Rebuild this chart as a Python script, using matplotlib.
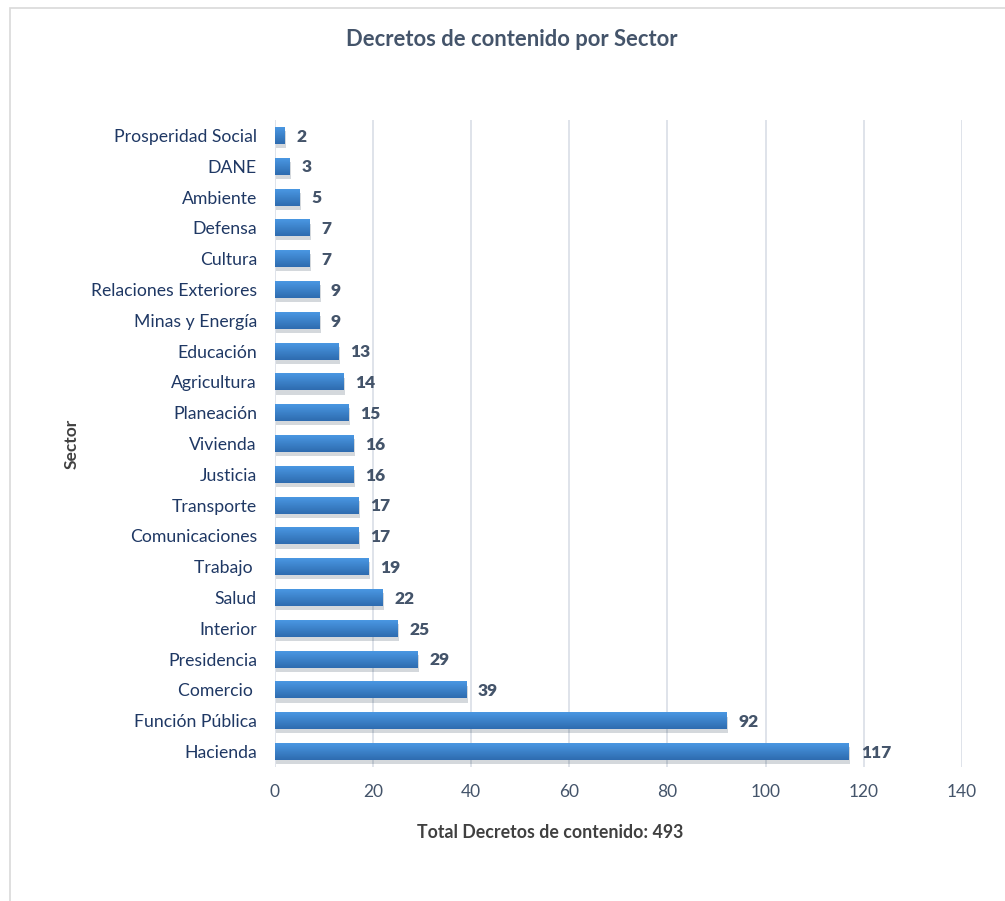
import matplotlib.pyplot as plt
import numpy as np
from matplotlib.patches import Rectangle
import matplotlib.patheffects as pe

sectors = ["Prosperidad Social", "DANE", "Ambiente", "Defensa", "Cultura",
           "Relaciones Exteriores", "Minas y Energía", "Educación", "Agricultura",
           "Planeación", "Vivienda", "Justicia", "Transporte", "Comunicaciones",
           "Trabajo ", "Salud", "Interior", "Presidencia", "Comercio ",
           "Función Pública", "Hacienda"]
counts = [2, 3, 5, 7, 7, 9, 9, 13, 14, 15, 16, 16, 17, 17, 19, 22, 25, 29, 39, 92, 117]
xticks = [0, 20, 40, 60, 80, 100, 120, 140]

plt.rcParams["font.family"] = ["Lato", "DejaVu Sans"]

fig = plt.figure(figsize=(10.05, 9.01), dpi=100)
ax = fig.add_axes([0.2736, 0.1487, 0.6834, 0.7181])

# chart border
fig.patches.append(Rectangle((10 / 1005, -0.1), 1.1, 1 - 8 / 901 + 0.1,
                             transform=fig.transFigure, fill=False,
                             edgecolor="#D9D9D9", linewidth=1.2))

y = np.arange(len(sectors))[::-1]
h = 0.55
grad = np.linspace(0, 1, 50).reshape(-1, 1)
cmap = plt.matplotlib.colors.LinearSegmentedColormap.from_list(
    "bar", ["#4A97E2", "#2E6CB0"])
bars = ax.barh(y, counts, height=h, color="#3A82CC", zorder=3,
               path_effects=[pe.SimplePatchShadow(offset=(1, -3), alpha=0.18),
                             pe.Normal()])
for b in bars:
    x0, y0, w, hh = b.get_x(), b.get_y(), b.get_width(), b.get_height()
    ax.imshow(grad, extent=[x0, x0 + w, y0, y0 + hh], aspect="auto",
              cmap=cmap, origin="upper", zorder=4)
    ax.text(x0 + w + 2.4, y0 + hh / 2 - 0.04, str(int(w)), va="center", ha="left",
            fontsize=12.5, fontweight="heavy", color="#44546A", zorder=5)

ax.set_xlim(0, 140)
ax.set_ylim(-0.5, len(sectors) - 0.5)
ax.set_xticks(xticks)
ax.set_yticks(y)
ax.set_yticklabels(sectors)
ax.tick_params(axis="y", length=0, pad=13, labelsize=12.7, labelcolor="#1F3864")
ax.tick_params(axis="x", length=0, pad=12, labelsize=12.5, labelcolor="#44546A")
ax.grid(axis="x", color="#D9DEE6", linewidth=1.2, zorder=0)
for s in ax.spines.values():
    s.set_visible(False)

fig.text(550 / 1005, 1 - 833 / 901, "Total Decretos de contenido: 493",
         ha="center", va="center", fontsize=12.8, fontweight="bold", color="#404040")
fig.text(72 / 1005, 1 - 444 / 901, "Sector", rotation=90,
         ha="center", va="center", fontsize=12.5, fontweight="bold", color="#404040")
fig.text(512 / 1005, 1 - 40 / 901, "Decretos de contenido por Sector",
         ha="center", va="center", fontsize=15.8, fontweight="bold", color="#44546A")

fig.savefig("out.png", dpi=100)
